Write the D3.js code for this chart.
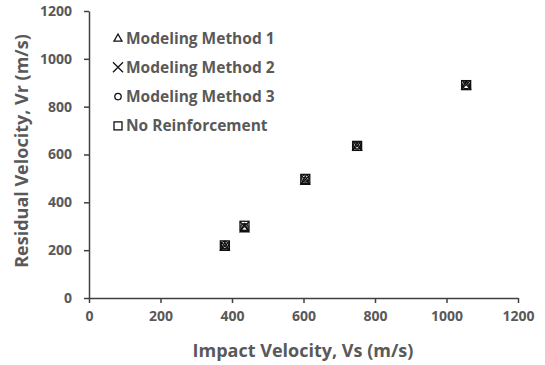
<!DOCTYPE html>
<html><head><meta charset="utf-8">
<script src="https://cdn.jsdelivr.net/npm/d3@7"></script>
<style>body{margin:0;background:#fff}svg{display:block}text{font-family:"Open Sans",sans-serif;font-weight:bold;fill:#595959}</style>
</head><body><svg id="c" width="545" height="365"></svg>
<script>
const xTicks = [0,200,400,600,800,1000,1200];
const yTicks = [0,200,400,600,800,1000,1200];
const impact = [380,435,605,750,1055];
const method1 = [214,292,490,632,888];
const method2 = [218,300,495,636,892];
const method3 = [222,296,500,638,890];
const noReinf = [220,302,498,636,890];
const seriesNames = ["Modeling Method 1","Modeling Method 2","Modeling Method 3","No Reinforcement"];
const seriesSymbols = ["triangle","cross","circle","square"];

const svg = d3.select("#c");
const x = d3.scaleLinear().domain([0,1200]).range([89,518]);
const y = d3.scaleLinear().domain([0,1200]).range([298,11]);

const xa = svg.append("g").attr("transform","translate(0,298)")
  .call(d3.axisBottom(x).tickValues(xTicks).tickFormat(d3.format("d")).tickSize(5).tickSizeOuter(0).tickPadding(8));
const ya = svg.append("g").attr("transform","translate(89,0)")
  .call(d3.axisLeft(y).tickValues(yTicks).tickFormat(d3.format("d")).tickSize(5).tickSizeOuter(0).tickPadding(12));
[xa,ya].forEach(a=>{
  a.selectAll("path,line").attr("stroke","#404040").attr("stroke-width",1.5);
  a.selectAll("text").style("font-size","14px").attr("fill","#595959");
});

svg.append("text").attr("x",303).attr("y",357).attr("text-anchor","middle")
  .style("font-size","18px").text("Impact Velocity, Vs (m/s)");
svg.append("text").attr("transform","translate(28,151) rotate(-90)").attr("text-anchor","middle")
  .style("font-size","18px").text("Residual Velocity, Vr (m/s)");

function drawSym(g, type, cx, cy, s){
  if(type==="square") g.append("rect").attr("x",cx-s).attr("y",cy-s).attr("width",2*s).attr("height",2*s)
    .attr("fill","none").attr("stroke","#111").attr("stroke-width",1.3);
  else if(type==="circle") g.append("circle").attr("cx",cx).attr("cy",cy).attr("r",s*0.8)
    .attr("fill","none").attr("stroke","#111").attr("stroke-width",1.3);
  else if(type==="cross") g.append("path").attr("d",`M${cx-s},${cy-s}L${cx+s},${cy+s}M${cx-s},${cy+s}L${cx+s},${cy-s}`)
    .attr("stroke","#111").attr("stroke-width",1.3);
  else g.append("path").attr("d",`M${cx},${cy-s}L${cx+s},${cy+s*0.8}L${cx-s},${cy+s*0.8}Z`)
    .attr("fill","none").attr("stroke","#111").attr("stroke-width",1.3);
}

const data = [method1,method2,method3,noReinf];
const pg = svg.append("g");
data.forEach((vals,i)=>{
  vals.forEach((v,j)=>{
    drawSym(pg, seriesSymbols[i], x(impact[j]), y(v), 4.5);
  });
});

const lg = svg.append("g");
seriesNames.forEach((n,i)=>{
  const cy = 38 + i*29.3;
  drawSym(lg, seriesSymbols[i], 118, cy, seriesSymbols[i]==="cross"?5:4);
  lg.append("text").attr("x",126).attr("y",cy+5.5).style("font-size","15.5px").text(n);
});
</script></body></html>
